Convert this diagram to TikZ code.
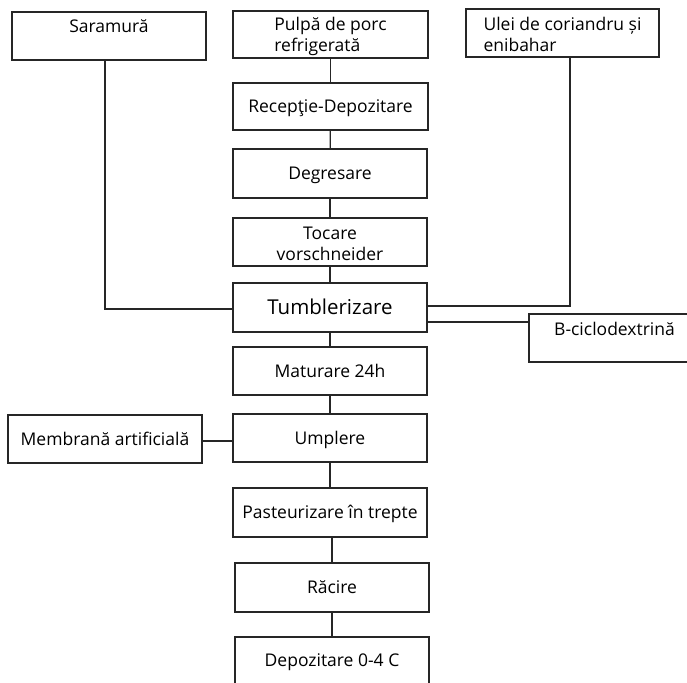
\documentclass[tikz,border=0pt]{standalone}
\usepackage{fontspec}
\setmainfont{Open Sans}
\newcommand{\topstrut}{\rule{0pt}{17pt}}
\begin{document}
\begin{tikzpicture}[x=1pt,y=-1pt,
  box/.style={draw=black!85, line width=1.3pt, fill=white, inner sep=0pt, font=\fontsize{17.5}{21}\selectfont, align=center},
  one/.style={text height=14.5pt, text depth=2pt},
  conn/.style={draw=black!85, line width=1.3pt}]
\useasboundingbox (0,0) rectangle (687,682);
\fill[white] (0,0) rectangle (687,682);
% boxes: centre, width, height
\node[box, minimum width=194pt, minimum height=48pt, text height=21pt, text depth=27pt] (sar) at (109,36) {Saramură};
\node[box, minimum width=195pt, minimum height=47pt, align=left] (pulpa) at (330.5,34.5) {\topstrut Pulpă de porc\\refrigerată};
\node[box, minimum width=193pt, minimum height=48pt, align=left] (ulei) at (562.5,33) {\topstrut Ulei de coriandru și\\enibahar};
\node[box, one, minimum width=195pt, minimum height=47pt] (recep) at (330.5,106.5) {Recepţie-Depozitare};
\node[box, one, minimum width=194pt, minimum height=49pt] (degr) at (330,173.5) {Degresare};
\node[box, minimum width=194pt, minimum height=48pt] (toc) at (330,242) {\topstrut Tocare\\vorschneider};
\node[box, minimum width=194pt, minimum height=49pt, font=\fontsize{20.5}{24}\selectfont, text height=16.5pt, text depth=3pt] (tumb) at (330,307.5) {Tumblerizare};
\node[box, minimum width=171pt, minimum height=48pt, text height=21pt, text depth=27pt, text width=171pt] (bcic) at (614.5,338) {B-ciclodextrină\hspace*{5pt}};
\node[box, one, minimum width=194pt, minimum height=48pt] (mat) at (330,371) {Maturare 24h};
\node[box, one, minimum width=194pt, minimum height=48pt] (memb) at (105,439) {Membrană artificială};
\node[box, one, minimum width=194pt, minimum height=48pt] (umpl) at (330,438) {Umplere};
\node[box, one, minimum width=194pt, minimum height=49pt] (past) at (330,512.5) {Pasteurizare în trepte};
\node[box, one, minimum width=194pt, minimum height=49pt] (rac) at (332,587.5) {Răcire};
\node[box, minimum width=194pt, minimum height=63pt, text height=29pt, text depth=34pt] (dep) at (332,668.5) {Depozitare 0-4 C};
% connectors
\draw[conn] (pulpa) -- (recep);
\draw[conn] (recep) -- (degr);
\draw[conn] (degr) -- (toc);
\draw[conn] (toc) -- (tumb);
\draw[conn] (tumb) -- (mat);
\draw[conn] (mat) -- (umpl);
\draw[conn] (umpl) -- (past);
\draw[conn] (past.south -| rac.north) -- (rac);
\draw[conn] (rac) -- (dep);
\draw[conn] ([xshift=-4pt]sar.south) |- ([yshift=-1.5pt]tumb.west);
\draw[conn] ([xshift=7.5pt]ulei.south) |- ([yshift=1.5pt]tumb.east);
\draw[conn] ([yshift=-14.5pt]tumb.east) -- ([yshift=-14.5pt]tumb.east -| bcic.west);
\draw[conn] ([yshift=-2pt]memb.east) -- ([yshift=-2pt]memb.east -| umpl.west);
\end{tikzpicture}
\end{document}
